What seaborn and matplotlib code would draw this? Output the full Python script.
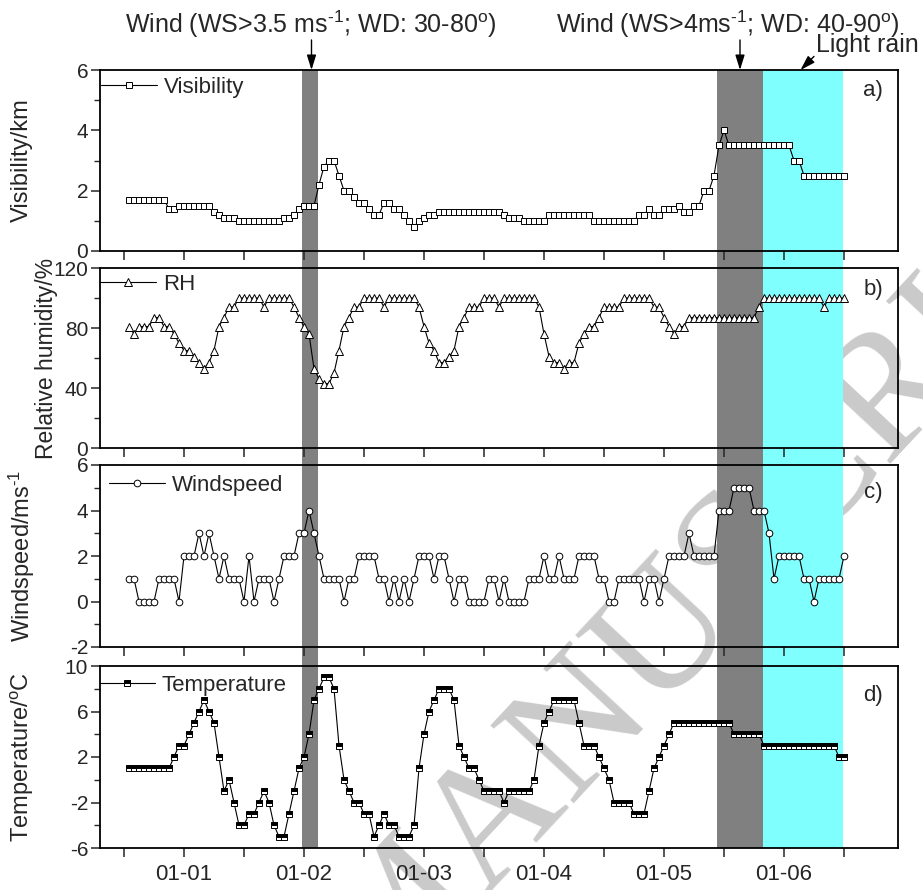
import matplotlib
matplotlib.use("Agg")
import matplotlib.pyplot as plt
import pandas as pd
import seaborn as sns
from matplotlib.patches import Rectangle
from matplotlib.ticker import FixedLocator
from matplotlib.transforms import blended_transform_factory

# Hourly records, hours counted from 01-01 00:00 (12-31 13:00 ... 01-06 12:00)
hours = list(range(-11, 133))

visibility = [
    1.7, 1.7, 1.7, 1.7, 1.7, 1.7, 1.7, 1.7, 1.4, 1.4,
    1.5, 1.5, 1.5, 1.5, 1.5, 1.5, 1.5, 1.3, 1.2, 1.1,
    1.1, 1.1, 1.0, 1.0, 1.0, 1.0, 1.0, 1.0, 1.0, 1.0,
    1.0, 1.1, 1.1, 1.2, 1.4, 1.5, 1.5, 1.5, 2.2, 2.8,
    3.0, 3.0, 2.5, 2.0, 2.0, 1.8, 1.6, 1.6, 1.4, 1.2,
    1.2, 1.6, 1.6, 1.4, 1.4, 1.2, 1.0, 0.8, 1.0, 1.1,
    1.2, 1.2, 1.3, 1.3, 1.3, 1.3, 1.3, 1.3, 1.3, 1.3,
    1.3, 1.3, 1.3, 1.3, 1.3, 1.2, 1.1, 1.1, 1.1, 1.0,
    1.0, 1.0, 1.0, 1.0, 1.2, 1.2, 1.2, 1.2, 1.2, 1.2,
    1.2, 1.2, 1.2, 1.0, 1.0, 1.0, 1.0, 1.0, 1.0, 1.0,
    1.0, 1.0, 1.2, 1.2, 1.4, 1.2, 1.2, 1.4, 1.4, 1.4,
    1.5, 1.3, 1.3, 1.5, 1.5, 2.0, 2.0, 2.5, 3.5, 4.0,
    3.5, 3.5, 3.5, 3.5, 3.5, 3.5, 3.5, 3.5, 3.5, 3.5,
    3.5, 3.5, 3.5, 3.0, 3.0, 2.5, 2.5, 2.5, 2.5, 2.5,
    2.5, 2.5, 2.5, 2.5,
]

rh = [
    81, 76, 81, 81, 81, 87, 87, 81, 81, 76,
    70, 65, 65, 61, 57, 53, 57, 65, 81, 87,
    94, 94, 100, 100, 100, 100, 100, 94, 100, 100,
    100, 100, 100, 94, 87, 81, 76, 53, 46, 43,
    43, 50, 65, 81, 87, 94, 94, 100, 100, 100,
    100, 94, 100, 100, 100, 100, 100, 100, 94, 81,
    70, 65, 57, 57, 61, 65, 81, 87, 94, 94,
    94, 100, 100, 100, 94, 100, 100, 100, 100, 100,
    100, 100, 94, 76, 61, 57, 57, 53, 57, 57,
    70, 76, 81, 81, 87, 94, 94, 94, 94, 100,
    100, 100, 100, 100, 100, 94, 94, 87, 81, 76,
    81, 81, 87, 87, 87, 87, 87, 87, 87, 87,
    87, 87, 87, 87, 87, 87, 94, 100, 100, 100,
    100, 100, 100, 100, 100, 100, 100, 100, 100, 94,
    100, 100, 100, 100,
]

windspeed = [
    1, 1, 0, 0, 0, 0, 1, 1, 1, 1,
    0, 2, 2, 2, 3, 2, 3, 2, 1, 2,
    1, 1, 1, 0, 2, 0, 1, 1, 1, 0,
    1, 2, 2, 2, 3, 3, 4, 3, 2, 1,
    1, 1, 1, 0, 1, 1, 2, 2, 2, 2,
    1, 1, 0, 1, 0, 1, 0, 1, 2, 2,
    2, 1, 2, 2, 1, 0, 1, 1, 0, 0,
    0, 0, 1, 1, 0, 1, 0, 0, 0, 0,
    1, 1, 1, 2, 1, 1, 2, 1, 1, 1,
    2, 2, 2, 2, 1, 1, 0, 0, 1, 1,
    1, 1, 1, 0, 1, 1, 0, 1, 2, 2,
    2, 2, 3, 2, 2, 2, 2, 2, 4, 4,
    4, 5, 5, 5, 5, 4, 4, 4, 3, 1,
    2, 2, 2, 2, 2, 1, 1, 0, 1, 1,
    1, 1, 1, 2,
]

temperature = [
    1, 1, 1, 1, 1, 1, 1, 1, 1, 2,
    3, 3, 4, 5, 6, 7, 6, 5, 2, -1,
    0, -2, -4, -4, -3, -3, -2, -1, -2, -4,
    -5, -5, -3, -1, 1, 2, 4, 7, 8, 9,
    9, 8, 3, 0, -1, -2, -2, -3, -3, -5,
    -4, -3, -4, -4, -5, -5, -5, -4, 1, 4,
    6, 7, 8, 8, 8, 7, 3, 2, 1, 1,
    0, -1, -1, -1, -1, -2, -1, -1, -1, -1,
    -1, 0, 3, 5, 6, 7, 7, 7, 7, 7,
    5, 3, 3, 3, 2, 1, 0, -2, -2, -2,
    -2, -3, -3, -3, -1, 1, 2, 3, 4, 5,
    5, 5, 5, 5, 5, 5, 5, 5, 5, 5,
    5, 4, 4, 4, 4, 4, 4, 3, 3, 3,
    3, 3, 3, 3, 3, 3, 3, 3, 3, 3,
    3, 3, 2, 2,
]

day_ticks = [0, 24, 48, 72, 96, 120]
day_labels = ["01-01", "01-02", "01-03", "01-04", "01-05", "01-06"]
half_day_ticks = list(range(-12, 133, 12))

wind_events = [(23.5, 26.7), (106.7, 115.9)]
rain_event = (115.9, 131.8)

df = pd.DataFrame({
    "hour": hours,
    "Visibility": visibility,
    "RH": rh,
    "Windspeed": windspeed,
    "Temperature": temperature,
})

sns.set_style("ticks")
plt.rcParams["font.family"] = ["Liberation Sans", "DejaVu Sans"]
plt.rcParams["mathtext.fontset"] = "custom"
plt.rcParams["mathtext.rm"] = "Liberation Sans"
plt.rcParams["mathtext.it"] = "Liberation Sans:italic"
plt.rcParams["mathtext.bf"] = "Liberation Sans:bold"
plt.rcParams["mathtext.default"] = "regular"

W, H = 923, 890
fig = plt.figure(figsize=(W / 100, H / 100), dpi=100)
fig.patch.set_facecolor("white")

left, right = 100, 898
panel_px = [(70, 251), (268, 448), (465, 647), (666, 848)]

open_marker = dict(markerfacecolor="white", markeredgecolor="black", markeredgewidth=0.7)
panels = [
    dict(col="Visibility", ylabel="Visibility/km", ylim=(0, 6),
         major=[0, 2, 4, 6], minor=[1, 3, 5], marker="s", ms=4.6,
         mkw=open_marker, letter="a)", lety=0.884, labx=33, labsize=17,
         legx=-0.004, legy=0.985),
    dict(col="RH", ylabel="Relative humidity/%", ylim=(0, 120),
         major=[0, 40, 80, 120], minor=[20, 60, 100], marker="^", ms=5.2,
         mkw=open_marker, letter="b)", lety=0.878, labx=58, labsize=16.5,
         legx=-0.005, legy=0.99),
    dict(col="Windspeed", ylabel="Windspeed/ms$^{\\text{-}1}$", ylim=(-2, 6),
         major=[-2, 0, 2, 4, 6], minor=[-1, 1, 3, 5], marker="o", ms=4.8,
         mkw=open_marker, letter="c)", lety=0.85, labx=37, labsize=17,
         legx=0.006, legy=0.97),
    dict(col="Temperature", ylabel="Temperature/$^{o}$C", ylim=(-6, 10),
         major=[-6, -2, 2, 6, 10], minor=[-4, 0, 4, 8], marker="s", ms=4.6,
         mkw=dict(markerfacecolor="black", markerfacecoloralt="white",
                  fillstyle="top", markeredgecolor="black", markeredgewidth=0.7),
         letter="d)", lety=0.84, labx=36, labsize=17, legx=-0.006, legy=0.975),
]

axes = []
for spec, (top, bot) in zip(panels, panel_px):
    ax = fig.add_axes([left / W, 1 - bot / H, (right - left) / W, (bot - top) / H])
    ax.set_facecolor("none")
    sns.lineplot(data=df, x="hour", y=spec["col"], ax=ax, estimator=None, sort=False,
                 color="black", linewidth=0.8, marker=spec["marker"], markersize=spec["ms"],
                 label=spec["col"], legend=False, **spec["mkw"])
    ax.set_xlim(-16.8, 142.8)
    ax.set_ylim(*spec["ylim"])
    ax.yaxis.set_major_locator(FixedLocator(spec["major"]))
    ax.yaxis.set_minor_locator(FixedLocator(spec["minor"]))
    ax.xaxis.set_major_locator(FixedLocator(half_day_ticks))
    ax.set_yticklabels([str(v) for v in spec["major"]])
    ax.tick_params(axis="both", which="major", direction="out", length=6.5, width=1.1,
                   labelsize=15, top=False, right=False, pad=2)
    ax.tick_params(axis="y", which="minor", direction="out", length=4, width=1.0, right=False)
    for s in ax.spines.values():
        s.set_linewidth(1.3)
        s.set_color("black")
    ax.set_xlabel("")
    ax.set_ylabel(spec["ylabel"], fontsize=spec["labsize"])
    ax.yaxis.set_label_coords((spec["labx"] - left) / (right - left), 0.5)
    ax.legend(loc="upper left", bbox_to_anchor=(spec["legx"], spec["legy"]), frameon=False,
              fontsize=16, handlelength=2.5, handletextpad=0.3, borderpad=0.2,
              borderaxespad=0.0)
    ax.text(0.981, spec["lety"], spec["letter"], transform=ax.transAxes,
            ha="right", va="center", fontsize=16)
    axes.append(ax)

labels = [day_labels[day_ticks.index(t)] if t in day_ticks else "" for t in half_day_ticks]
for ax in axes[:-1]:
    ax.set_xticklabels([""] * len(half_day_ticks))
axes[-1].set_xticklabels(labels)
axes[-1].tick_params(axis="x", labelsize=16, pad=5)

# Shaded episodes spanning all four panels
band_tr = blended_transform_factory(axes[0].transData, fig.transFigure)
y0 = 1 - panel_px[-1][1] / H
y1 = 1 - panel_px[0][0] / H
for a, b in wind_events:
    fig.add_artist(Rectangle((a, y0), b - a, y1 - y0, transform=band_tr,
                             facecolor="#808080", edgecolor="none", zorder=-1))
fig.add_artist(Rectangle((rain_event[0], y0), rain_event[1] - rain_event[0], y1 - y0,
                         transform=band_tr, facecolor="#80ffff", edgecolor="none", zorder=-1))

# Event annotations above the top panel
ax0 = axes[0]
top_tr = blended_transform_factory(ax0.transData, ax0.transAxes)
ax0.text(25.3, 1.254, "Wind (WS>3.5 ms$^{\\text{-}1}$; WD: 30-80$^{o}$)", transform=top_tr,
         ha="center", va="center", fontsize=18)
ax0.text(108.8, 1.254, "Wind (WS>4ms$^{\\text{-}1}$; WD: 40-90$^{o}$)", transform=top_tr,
         ha="center", va="center", fontsize=18)
ax0.text(126.4, 1.140, "Light rain", transform=top_tr, ha="left", va="center", fontsize=18)
arrow = dict(arrowstyle="-|>,head_length=0.9,head_width=0.28", color="black", lw=1.0,
             shrinkA=0, shrinkB=0)
for x_tip, x_tail, y_tail in [(25.5, 25.5, 1.166), (111.2, 111.2, 1.166), (123.3, 126.0, 1.075)]:
    ax0.annotate("", xy=(x_tip, 1.0), xycoords=top_tr, xytext=(x_tail, y_tail),
                 textcoords=top_tr, arrowprops=arrow, annotation_clip=False)

# Faint background stamp
fig.text(0.79, 0.36, "MANUSCRIPT", rotation=47, fontsize=125, family="Liberation Serif",
         color="#cacaca", ha="center", va="center", zorder=-2, rotation_mode="anchor")

fig.savefig("out.png", dpi=100, facecolor="white")
